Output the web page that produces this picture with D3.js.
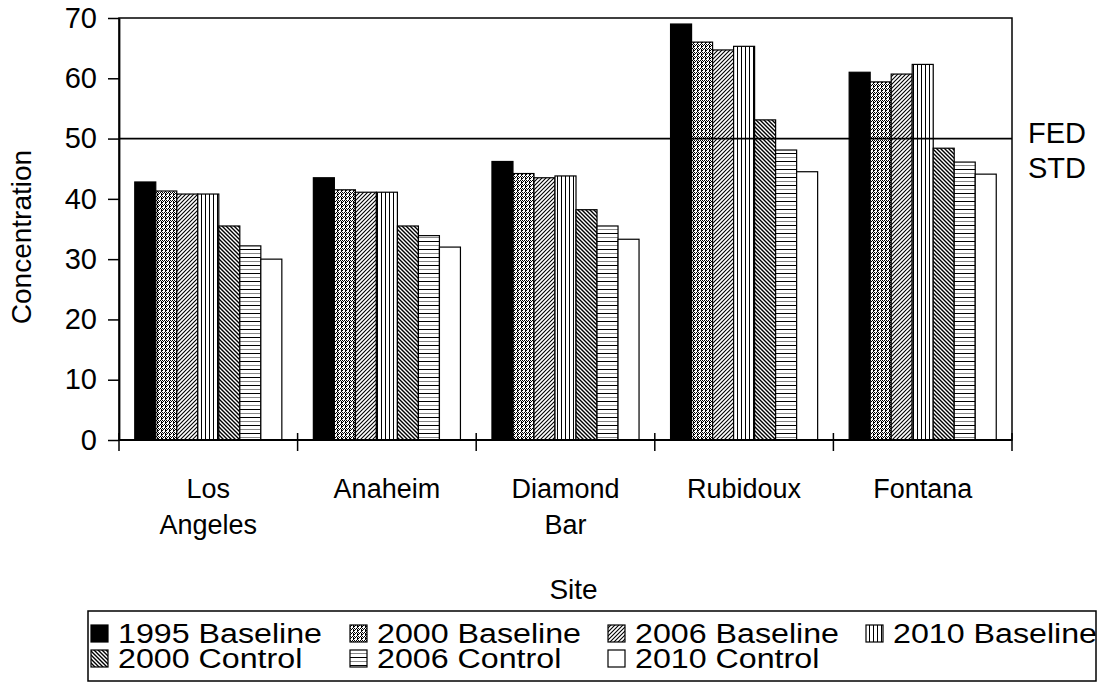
<!DOCTYPE html>
<html>
<head>
<meta charset="utf-8">
<script src="https://cdn.jsdelivr.net/npm/d3@7"></script>
<style>
  html, body { margin: 0; padding: 0; background: #fff; }
  svg { display: block; font-family: "Liberation Sans", Arial, sans-serif; }
</style>
</head>
<body>
<svg id="chart" width="1099" height="683"></svg>
<script>
// Sites along the category axis (label lines for wrapped names)
const sites = ["Los Angeles", "Anaheim", "Diamond Bar", "Rubidoux", "Fontana"];
const siteLines = [["Los", "Angeles"], ["Anaheim"], ["Diamond", "Bar"], ["Rubidoux"], ["Fontana"]];

// Scenario series
const seriesNames = ["1995 Baseline", "2000 Baseline", "2006 Baseline", "2010 Baseline",
                     "2000 Control", "2006 Control", "2010 Control"];

// Concentration per site, one array per scenario
const base1995 = [42.8, 43.5, 46.2, 69.0, 61.0];
const base2000 = [41.3, 41.5, 44.2, 66.0, 59.4];
const base2006 = [40.8, 41.1, 43.5, 64.7, 60.7];
const base2010 = [40.8, 41.1, 43.8, 65.3, 62.3];
const ctrl2000 = [35.5, 35.5, 38.2, 53.1, 48.4];
const ctrl2006 = [32.2, 33.9, 35.5, 48.1, 46.1];
const ctrl2010 = [30.0, 32.0, 33.3, 44.5, 44.1];

const yTicks = [0, 10, 20, 30, 40, 50, 60, 70];
const fedStd = 50;

const values = [base1995, base2000, base2006, base2010, ctrl2000, ctrl2006, ctrl2010];

const svg = d3.select("#chart");
const FONT = 28;
const CAT_FONT = 27;

// ---- fill patterns ----
const defs = svg.append("defs");
function pat(id, w, h, draw) {
  const p = defs.append("pattern").attr("id", id).attr("patternUnits", "userSpaceOnUse")
    .attr("width", w).attr("height", h);
  p.append("rect").attr("width", w).attr("height", h).attr("fill", "#fff");
  draw(p);
}
// small weave
pat("p-b2000", 4, 4, p => {
  [[0,0],[2,0],[1,1],[3,1],[1,2],[2,2],[1,3]].forEach(([x, y]) =>
    p.append("rect").attr("x", x).attr("y", y).attr("width", 1).attr("height", 1).attr("fill", "#000"));
});
// upward diagonal
pat("p-b2006", 4, 4, p => {
  p.append("path").attr("d", "M0,4 L4,0 M-1,1 L1,-1 M3,5 L5,3")
    .attr("stroke", "#000").attr("stroke-width", 1.1);
});
// vertical lines
pat("p-b2010", 4, 4, p => {
  p.append("rect").attr("x", 1).attr("y", 0).attr("width", 1).attr("height", 4).attr("fill", "#000");
});
// downward diagonal
pat("p-c2000", 4, 4, p => {
  p.append("path").attr("d", "M0,0 L4,4 M-1,3 L1,5 M3,-1 L5,1")
    .attr("stroke", "#000").attr("stroke-width", 1.4);
});
// horizontal lines
pat("p-c2006", 8, 8, p => {
  p.append("rect").attr("x", 0).attr("y", 1).attr("width", 8).attr("height", 1).attr("fill", "#000");
  p.append("rect").attr("x", 0).attr("y", 5).attr("width", 8).attr("height", 1).attr("fill", "#888");
});

const fills = ["#000", "url(#p-b2000)", "url(#p-b2006)", "url(#p-b2010)",
               "url(#p-c2000)", "url(#p-c2006)", "#fff"];

// ---- scales ----
const plot = { left: 119, right: 1012, top: 18, bottom: 440 };
const x = d3.scaleBand().domain(sites).range([plot.left, plot.right]).paddingInner(0).paddingOuter(0);
const barW = x.bandwidth() / 8.5;
const xs = d3.scaleBand().domain(seriesNames)
  .range([0.75 * barW, x.bandwidth() - 0.75 * barW]).padding(0);
const y = d3.scaleLinear().domain([0, 70]).range([plot.bottom, plot.top]);

// plot frame
svg.append("rect").attr("x", plot.left).attr("y", plot.top)
  .attr("width", plot.right - plot.left).attr("height", plot.bottom - plot.top)
  .attr("fill", "none").attr("stroke", "#000").attr("stroke-width", 1.5);

// ---- bars ----
const g = svg.append("g");
seriesNames.forEach((name, si) => {
  g.selectAll(null).data(sites).enter().append("rect")
    .attr("x", d => x(d) + xs(name))
    .attr("y", (d, i) => y(values[si][i]))
    .attr("width", xs.bandwidth())
    .attr("height", (d, i) => y(0) - y(values[si][i]))
    .attr("fill", fills[si])
    .attr("stroke", "#000").attr("stroke-width", 1.2);
});

// standard line
svg.append("line").attr("x1", plot.left).attr("x2", plot.right)
  .attr("y1", y(fedStd)).attr("y2", y(fedStd))
  .attr("stroke", "#000").attr("stroke-width", 1.8);
svg.append("text").attr("x", 1028).attr("y", y(fedStd) + 4)
  .attr("font-size", 29).attr("fill", "#000")
  .selectAll("tspan").data(["FED", "STD"]).enter().append("tspan")
  .attr("x", 1028).attr("dy", (d, i) => i === 0 ? 0 : 35).text(d => d);

// ---- y axis ----
const yAxis = svg.append("g").attr("transform", `translate(${plot.left},0)`)
  .call(d3.axisLeft(y).tickValues(yTicks).tickSizeInner(11).tickSizeOuter(0).tickPadding(11));
yAxis.select(".domain").attr("stroke", "#000").attr("stroke-width", 1.8);
yAxis.selectAll(".tick line").attr("stroke", "#000").attr("stroke-width", 1.5);
yAxis.selectAll(".tick text").attr("font-size", 29).attr("font-family", "Liberation Sans, Arial, sans-serif")
  .attr("fill", "#000");

// ---- x axis ----
svg.append("line").attr("x1", plot.left).attr("x2", plot.right)
  .attr("y1", plot.bottom).attr("y2", plot.bottom)
  .attr("stroke", "#000").attr("stroke-width", 1.8);
const bounds = sites.map(s => x(s)).concat([x(sites[sites.length - 1]) + x.bandwidth()]);
svg.selectAll(null).data(bounds).enter().append("line")
  .attr("x1", d => d).attr("x2", d => d)
  .attr("y1", plot.bottom - 7).attr("y2", plot.bottom + 11)
  .attr("stroke", "#000").attr("stroke-width", 1.5);

const catLabels = svg.append("g").attr("font-size", CAT_FONT).attr("text-anchor", "middle");
sites.forEach((s, i) => {
  const t = catLabels.append("text").attr("y", 498);
  siteLines[i].forEach((ln, j) => {
    t.append("tspan").attr("x", x(s) + x.bandwidth() / 2).attr("dy", j === 0 ? 0 : 36).text(ln);
  });
});

// axis titles
svg.append("text").attr("x", (plot.left + plot.right) / 2 + 8).attr("y", 599)
  .attr("text-anchor", "middle").attr("font-size", FONT).text("Site");
svg.append("text").attr("transform", `translate(31,237) rotate(-90)`)
  .attr("text-anchor", "middle").attr("font-size", FONT).text("Concentration");

// ---- legend ----
const leg = svg.append("g");
leg.append("rect").attr("x", 88).attr("y", 611).attr("width", 1008).attr("height", 70)
  .attr("fill", "#fff").attr("stroke", "#000").attr("stroke-width", 1.5);
const colX = [91, 350, 608, 866];
const legStretch = 1.15;
seriesNames.forEach((name, i) => {
  const row = i < 4 ? 0 : 1;
  const col = i < 4 ? i : i - 4;
  const cx = colX[col];
  const cy = row === 0 ? 643 : 668;
  leg.append("rect").attr("x", cx).attr("y", cy - 18).attr("width", 17).attr("height", 17)
    .attr("fill", fills[i]).attr("stroke", "#000").attr("stroke-width", 1.2);
  leg.append("text").attr("transform", `translate(${cx + 27},${cy}) scale(${legStretch},1)`)
    .attr("font-size", FONT).text(name);
});
</script>
</body>
</html>
